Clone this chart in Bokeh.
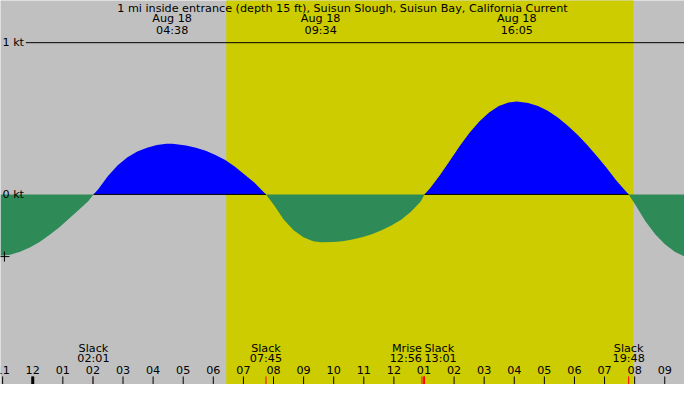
import numpy as np
from bokeh.core.properties import value
from bokeh.embed import file_html
from bokeh.models import Range1d
from bokeh.plotting import figure
from bokeh.resources import INLINE

# Aug 18, hours after midnight vs current speed (kt, flood +, ebb -)
times = [-1.071, -0.747, -0.422, -0.097, 0.227, 0.552, 0.877, 1.201, 1.526, 1.851,
         2.017, 2.175, 2.50, 2.825, 3.149, 3.474, 3.799, 4.123, 4.448, 4.633,
         4.773, 5.097, 5.422, 5.747, 6.071, 6.396, 6.721, 7.045, 7.370, 7.75,
         8.019, 8.344, 8.669, 8.994, 9.318, 9.567, 9.968, 10.292, 10.617, 10.942,
         11.266, 11.591, 11.916, 12.240, 12.565, 12.890, 13.017, 13.214, 13.539, 13.864,
         14.188, 14.513, 14.838, 15.162, 15.487, 15.812, 16.083, 16.461, 16.786, 17.110,
         17.435, 17.760, 18.084, 18.409, 18.734, 19.058, 19.383, 19.80, 20.032, 20.357,
         20.682, 21.006, 21.331, 21.656]
knots = [-0.405, -0.397, -0.378, -0.350, -0.314, -0.268, -0.219, -0.160, -0.103, -0.044,
         0.0, 0.034, 0.122, 0.192, 0.245, 0.283, 0.308, 0.325, 0.333, 0.334,
         0.331, 0.323, 0.308, 0.287, 0.259, 0.226, 0.183, 0.129, 0.076, 0.0,
         -0.072, -0.167, -0.236, -0.283, -0.308, -0.316, -0.314, -0.308, -0.297, -0.283,
         -0.262, -0.236, -0.205, -0.167, -0.114, -0.046, 0.0, 0.044, 0.129, 0.224,
         0.319, 0.407, 0.481, 0.540, 0.582, 0.605, 0.612, 0.603, 0.582, 0.551,
         0.508, 0.456, 0.397, 0.329, 0.255, 0.177, 0.093, 0.0, -0.072, -0.177,
         -0.262, -0.329, -0.378, -0.409]

slack_times = [2.017, 7.75, 13.017, 19.80]
slack_labels = ["02:01", "07:45", "13:01", "19:48"]
max_times = [4.633, 9.567, 16.083]
max_labels = ["04:38", "09:34", "16:05"]
moonrise = 12.933
moonrise_label = "12:56"
sunrise, sunset = 6.43, 19.96
cursor_time, cursor_kt = -0.94, -0.41

hours = list(range(-1, 22))
hour_labels = ["11", "12", "01", "02", "03", "04", "05", "06", "07", "08", "09", "10",
               "11", "12", "01", "02", "03", "04", "05", "06", "07", "08", "09"]

title = "1 mi inside entrance (depth 15 ft), Suisun Slough, Suisun Bay, California Current"

FONT = value("DejaVu Sans")
FS = "11.2px"

p = figure(width=684, height=384, output_backend="svg", toolbar_location=None,
           x_axis_location=None, y_axis_location=None, min_border=0,
           x_range=Range1d(-1.071, 21.656), y_range=Range1d(-1.253, 1.278))
p.background_fill_color = "#C0C0C0"
p.border_fill_color = "#C0C0C0"
p.outline_line_color = None
p.grid.visible = False

# daylight
p.quad(left=sunrise, right=sunset, bottom=-2, top=2, fill_color="#CCCC00", line_color=None)

t = np.array(times)
k = np.array(knots)
p.varea(x=t, y1=0, y2=np.maximum(k, 0), fill_color="#0000FF")
p.varea(x=t, y1=0, y2=np.minimum(k, 0), fill_color="#2E8B57")

# zero line only under the flood
p.segment(x0=slack_times[0::2], x1=slack_times[1::2], y0=0, y1=0,
          line_color="black", line_width=1)
# 1 kt line
p.segment(x0=-0.227, x1=22, y0=1, y1=1, line_color="black", line_width=1)

p.text(x=[-1.006, -1.006], y=[1, 0], text=["1 kt", "0 kt"], text_font=FONT,
       text_font_size=FS, text_baseline="middle", text_align="left")
p.scatter(x=[cursor_time], y=[cursor_kt], marker="cross", size=10,
          line_color="black", line_width=1)

# top labels
p.text(x=[10.29], y=[1.228], text=[title], text_font=FONT, text_font_size=FS,
       text_baseline="middle", text_align="center")
p.text(x=max_times, y=[1.158] * len(max_times), text=["Aug 18"] * len(max_times),
       text_font=FONT, text_font_size=FS, text_baseline="middle", text_align="center")
p.text(x=max_times, y=[1.082] * len(max_times), text=max_labels,
       text_font=FONT, text_font_size=FS, text_baseline="middle", text_align="center")

# bottom event labels
ev_x = slack_times + [moonrise]
ev_top = ["Slack"] * len(slack_times) + ["Mrise"]
ev_bot = slack_labels + [moonrise_label]
ev_align = ["center", "center", "left", "center", "right"]
p.text(x=ev_x, y=[-1.013] * len(ev_x), text=ev_top, text_font=FONT, text_font_size=FS,
       text_baseline="middle", text_align=ev_align)
p.text(x=ev_x, y=[-1.084] * len(ev_x), text=ev_bot, text_font=FONT, text_font_size=FS,
       text_baseline="middle", text_align=ev_align)

# hour ticks
p.text(x=hours, y=[-1.160] * len(hours), text=hour_labels, text_font=FONT,
       text_font_size=FS, text_baseline="middle", text_align="center")
p.segment(x0=hours, x1=hours, y0=-1.20, y1=-1.26, line_color="black", line_width=1)
p.segment(x0=[0], x1=[0], y0=-1.20, y1=-1.26, line_color="black", line_width=3)
p.segment(x0=ev_x, x1=ev_x, y0=-1.20, y1=-1.26, line_color="red", line_width=1)

open("out.html", "w").write(file_html(p, INLINE))
